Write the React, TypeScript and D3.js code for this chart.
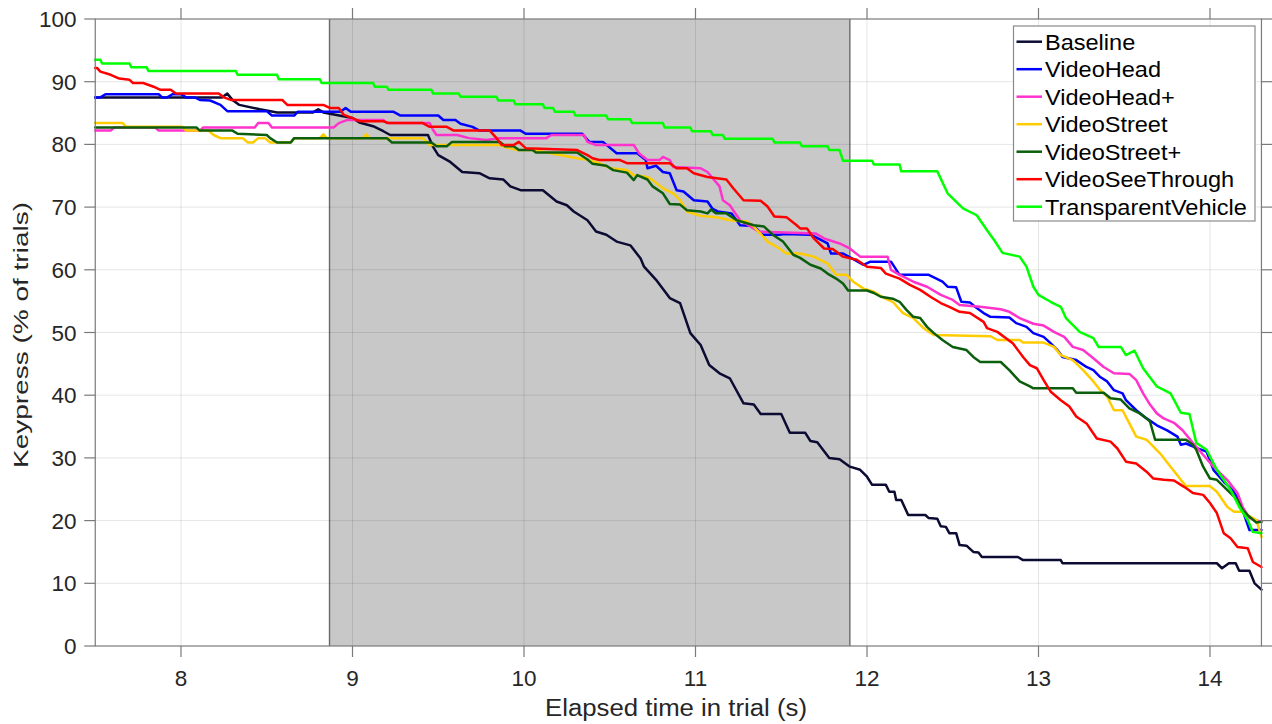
import React from "react";
import * as d3 from "d3";

type Pt = [number, number];

const seriesNames = ["Baseline", "VideoHead", "VideoHead+", "VideoStreet", "VideoStreet+", "VideoSeeThrough", "TransparentVehicle"];
const seriesColors = ["#0b0b33", "#0000ff", "#ff33cc", "#ffcc00", "#0b5e0b", "#ff0000", "#00ff00"];

const xTicks = [8, 9, 10, 11, 12, 13, 14];
const yTicks = [0, 10, 20, 30, 40, 50, 60, 70, 80, 90, 100];
const xDomain: [number, number] = [7.5, 14.3];
const yDomain: [number, number] = [0, 100];
const shadedInterval: [number, number] = [8.866, 11.9];

const baseline: Pt[] = [[7.5,87.5],[8.24,87.5],[8.27,88.1],[8.30,87.1],[8.34,86.3],[8.46,85.6],[8.56,85.1],[8.77,85.1],[8.80,85.6],[8.83,85.1],[9.00,84.2],[9.04,83.5],[9.12,82.9],[9.18,82.1],[9.22,81.5],[9.44,81.5],[9.47,79.6],[9.50,78.3],[9.57,77.2],[9.64,75.6],[9.74,75.4],[9.80,74.6],[9.88,74.4],[9.92,73.3],[9.98,72.7],[10.11,72.7],[10.19,70.9],[10.25,70.3],[10.29,69.3],[10.37,67.9],[10.42,66.1],[10.48,65.6],[10.54,64.5],[10.62,63.9],[10.68,61.8],[10.70,60.5],[10.77,58.4],[10.85,55.5],[10.91,54.7],[10.97,49.9],[11.03,48.0],[11.08,44.8],[11.14,43.5],[11.20,42.7],[11.28,38.7],[11.34,38.5],[11.38,37.0],[11.50,37.0],[11.55,34.0],[11.64,34.0],[11.67,32.7],[11.71,32.5],[11.78,30.0],[11.84,29.8],[11.90,28.6],[11.96,28.1],[12.00,27.0],[12.03,25.7],[12.11,25.7],[12.13,24.6],[12.16,24.6],[12.17,23.3],[12.20,23.3],[12.24,20.9],[12.34,20.9],[12.36,20.4],[12.41,20.3],[12.43,19.1],[12.46,19.0],[12.48,18.0],[12.52,18.0],[12.54,16.1],[12.58,16.0],[12.62,15.0],[12.65,14.9],[12.67,14.2],[12.88,14.2],[12.91,13.7],[13.13,13.7],[13.14,13.2],[14.04,13.2],[14.07,12.4],[14.11,13.2],[14.15,13.2],[14.17,12.0],[14.23,12.0],[14.26,10.0],[14.30,9.0]];

const videoHead: Pt[] = [[7.5,87.5],[7.53,87.5],[7.56,88.0],[7.87,88.0],[7.89,87.5],[7.92,87.5],[7.95,88.0],[8.00,88.0],[8.03,87.5],[8.08,87.5],[8.11,87.1],[8.17,87.0],[8.23,86.3],[8.27,85.3],[8.50,85.3],[8.53,84.6],[8.66,84.6],[8.68,85.2],[8.93,85.2],[8.96,85.8],[8.99,85.2],[9.24,85.2],[9.28,84.6],[9.50,84.6],[9.53,83.9],[9.60,83.9],[9.63,83.3],[9.70,82.8],[9.74,82.2],[9.98,82.2],[10.01,81.7],[10.34,81.7],[10.38,80.4],[10.46,80.4],[10.54,78.6],[10.66,78.6],[10.71,77.5],[10.72,76.2],[10.77,76.6],[10.81,75.6],[10.85,75.4],[10.89,72.7],[10.93,72.5],[10.99,71.1],[11.07,70.9],[11.10,69.7],[11.13,69.3],[11.21,69.0],[11.26,67.1],[11.34,67.0],[11.39,65.6],[11.49,65.6],[11.52,65.7],[11.67,65.6],[11.70,65.2],[11.77,64.2],[11.79,62.6],[11.86,62.6],[11.92,61.7],[11.98,60.8],[12.02,61.3],[12.14,61.3],[12.19,59.2],[12.36,59.2],[12.39,58.8],[12.44,58.1],[12.47,57.3],[12.52,57.2],[12.55,54.9],[12.60,54.8],[12.63,54.1],[12.68,53.1],[12.72,52.5],[12.83,52.4],[12.87,51.5],[12.93,50.9],[12.97,49.9],[13.03,49.3],[13.07,48.3],[13.11,47.2],[13.14,46.1],[13.22,45.6],[13.28,44.5],[13.32,44.0],[13.36,42.9],[13.40,42.2],[13.44,40.8],[13.49,40.3],[13.51,39.2],[13.57,37.6],[13.63,36.3],[13.69,35.2],[13.75,34.4],[13.81,33.4],[13.83,32.1],[13.86,32.3],[13.92,31.6],[13.98,31.0],[14.02,28.1],[14.08,26.2],[14.13,24.9],[14.17,23.3],[14.21,20.1],[14.23,18.5],[14.30,18.5]];

const videoHeadPlus: Pt[] = [[7.5,82.2],[7.59,82.2],[7.61,82.7],[7.85,82.7],[7.87,82.2],[8.11,82.2],[8.13,82.7],[8.43,82.7],[8.45,83.4],[8.51,83.4],[8.53,82.7],[8.89,82.7],[8.92,83.4],[8.97,83.9],[9.18,83.9],[9.20,83.4],[9.45,83.4],[9.47,82.3],[9.49,81.5],[9.61,81.5],[9.68,81.0],[9.78,80.7],[9.86,81.0],[10.13,81.0],[10.16,81.5],[10.35,81.5],[10.37,80.4],[10.42,79.9],[10.64,79.9],[10.67,78.6],[10.72,77.5],[10.79,77.5],[10.81,78.0],[10.85,77.5],[10.87,76.4],[11.03,76.2],[11.07,75.6],[11.14,73.3],[11.16,71.1],[11.20,70.3],[11.26,67.9],[11.37,66.1],[11.70,65.8],[11.75,65.0],[11.84,64.2],[11.90,63.4],[11.96,62.1],[12.12,62.1],[12.14,60.0],[12.19,59.2],[12.27,58.1],[12.35,57.3],[12.43,56.0],[12.50,55.2],[12.54,54.4],[12.66,54.1],[12.78,53.7],[12.83,53.3],[12.89,52.3],[12.97,51.4],[13.03,51.1],[13.09,50.1],[13.15,49.3],[13.20,47.7],[13.26,47.2],[13.32,45.9],[13.38,44.5],[13.44,43.5],[13.53,43.4],[13.57,42.4],[13.61,40.3],[13.65,38.5],[13.69,37.1],[13.73,36.3],[13.79,35.6],[13.84,34.4],[13.90,32.4],[13.96,30.5],[14.02,28.6],[14.10,26.5],[14.16,24.4],[14.19,22.2],[14.23,20.4],[14.30,19.8]];

const videoStreet: Pt[] = [[7.5,83.4],[7.66,83.4],[7.68,82.8],[8.01,82.8],[8.03,82.2],[8.16,82.2],[8.19,81.5],[8.23,81.0],[8.36,81.0],[8.39,80.3],[8.42,80.3],[8.45,81.0],[8.49,81.0],[8.52,80.3],[8.64,80.3],[8.66,81.0],[8.81,81.0],[8.83,81.6],[8.85,81.0],[9.06,81.0],[9.08,81.6],[9.10,81.0],[9.41,81.0],[9.45,79.9],[9.86,79.9],[9.90,79.5],[9.96,79.1],[10.05,79.1],[10.21,78.3],[10.31,77.8],[10.38,77.5],[10.44,77.0],[10.50,76.2],[10.60,75.9],[10.64,75.1],[10.72,74.8],[10.75,74.3],[10.81,73.0],[10.87,72.2],[10.91,71.1],[10.95,69.3],[11.03,68.6],[11.12,68.4],[11.20,67.9],[11.30,67.7],[11.34,66.9],[11.42,64.5],[11.49,63.4],[11.53,62.6],[11.61,62.6],[11.69,62.1],[11.77,61.0],[11.82,59.2],[11.88,59.2],[11.92,58.1],[11.98,57.0],[12.04,56.5],[12.10,55.5],[12.15,54.9],[12.21,53.1],[12.27,52.3],[12.33,50.7],[12.39,49.6],[12.72,49.4],[12.76,48.8],[12.89,48.8],[12.91,48.4],[13.03,48.4],[13.09,47.7],[13.13,46.4],[13.20,45.6],[13.26,44.0],[13.32,42.2],[13.36,40.8],[13.40,39.8],[13.44,37.6],[13.49,37.6],[13.53,35.5],[13.57,33.4],[13.63,32.9],[13.71,30.7],[13.77,28.6],[13.83,26.5],[13.86,25.5],[14.00,25.5],[14.04,24.6],[14.10,22.2],[14.14,21.4],[14.19,21.4],[14.22,20.9],[14.27,20.1],[14.30,17.4]];

const videoStreetPlus: Pt[] = [[7.5,82.7],[8.09,82.7],[8.11,82.2],[8.30,82.2],[8.33,81.7],[8.50,81.5],[8.52,81.0],[8.56,80.3],[8.64,80.3],[8.66,81.0],[9.20,81.0],[9.23,80.3],[9.46,80.3],[9.49,79.7],[9.55,79.7],[9.58,80.4],[9.86,80.4],[9.89,79.7],[9.94,79.7],[9.97,79.1],[10.05,79.1],[10.07,78.7],[10.31,78.7],[10.37,77.6],[10.40,76.9],[10.48,76.6],[10.52,75.9],[10.60,75.5],[10.64,74.3],[10.66,75.1],[10.72,74.4],[10.75,73.3],[10.81,72.2],[10.85,70.5],[10.91,70.4],[10.95,69.5],[11.03,69.3],[11.07,69.0],[11.09,69.6],[11.12,69.0],[11.18,69.0],[11.24,67.9],[11.34,67.1],[11.40,66.9],[11.45,65.6],[11.51,64.5],[11.57,62.4],[11.61,61.9],[11.67,60.8],[11.73,60.2],[11.77,59.4],[11.82,58.6],[11.86,57.8],[11.89,56.7],[12.00,56.7],[12.04,56.3],[12.08,55.7],[12.15,55.4],[12.19,54.9],[12.23,53.6],[12.27,52.5],[12.31,52.3],[12.35,50.9],[12.39,49.9],[12.44,48.8],[12.50,47.7],[12.58,47.2],[12.62,46.1],[12.66,45.3],[12.78,45.3],[12.83,44.0],[12.89,42.2],[12.95,41.4],[12.97,41.1],[13.20,41.1],[13.22,40.4],[13.38,40.4],[13.42,39.5],[13.48,39.3],[13.53,37.9],[13.59,37.1],[13.63,36.3],[13.65,35.8],[13.68,32.9],[13.86,32.9],[13.90,32.1],[13.92,31.3],[13.96,28.6],[14.00,26.7],[14.04,26.5],[14.10,24.9],[14.16,23.3],[14.19,21.7],[14.23,20.6],[14.27,19.7],[14.30,19.8]];

const videoSeeThrough: Pt[] = [[7.5,92.2],[7.51,92.2],[7.53,91.6],[7.59,91.1],[7.64,90.5],[7.70,90.3],[7.72,89.8],[7.78,89.8],[7.84,89.2],[7.88,88.7],[7.94,88.7],[7.97,88.1],[8.22,88.1],[8.25,87.5],[8.29,87.1],[8.59,87.1],[8.62,86.3],[8.83,86.3],[8.87,85.8],[8.92,85.8],[8.95,84.7],[9.00,84.2],[9.04,83.7],[9.18,83.7],[9.21,83.4],[9.41,83.4],[9.45,82.8],[9.55,82.8],[9.59,82.2],[9.80,82.2],[9.84,81.0],[9.87,79.9],[9.94,79.9],[9.97,80.4],[10.01,79.4],[10.31,79.1],[10.37,78.3],[10.40,77.8],[10.44,77.5],[10.56,77.5],[10.60,77.0],[10.85,77.0],[10.89,76.2],[10.95,76.2],[10.99,75.4],[11.07,74.8],[11.18,74.4],[11.22,73.0],[11.28,71.1],[11.38,71.0],[11.42,70.1],[11.46,68.5],[11.53,68.4],[11.59,67.1],[11.61,66.6],[11.65,66.6],[11.69,65.0],[11.75,63.4],[11.80,63.3],[11.86,62.1],[11.94,61.6],[12.00,60.5],[12.08,60.3],[12.11,59.4],[12.19,58.6],[12.25,57.6],[12.31,56.8],[12.37,55.7],[12.43,54.7],[12.48,54.1],[12.54,53.3],[12.60,53.1],[12.68,51.7],[12.70,50.7],[12.76,50.1],[12.85,48.3],[12.91,46.1],[12.95,44.8],[12.99,44.3],[13.03,42.4],[13.07,40.6],[13.13,39.2],[13.18,38.2],[13.22,36.6],[13.28,35.5],[13.34,33.1],[13.42,32.6],[13.46,31.5],[13.51,29.4],[13.57,29.1],[13.63,27.8],[13.67,26.7],[13.73,26.5],[13.79,26.4],[13.83,25.7],[13.86,25.2],[13.90,24.4],[13.96,24.1],[14.00,22.8],[14.04,21.2],[14.08,18.0],[14.12,17.2],[14.16,15.8],[14.22,15.6],[14.25,13.4],[14.30,12.6]];

const transparentVehicle: Pt[] = [[7.5,93.5],[7.53,93.5],[7.54,92.9],[7.70,92.9],[7.71,92.3],[7.80,92.3],[7.81,91.7],[8.32,91.7],[8.33,91.1],[8.56,91.1],[8.57,90.4],[8.81,90.4],[8.82,89.8],[9.12,89.8],[9.13,89.2],[9.20,89.2],[9.21,88.7],[9.46,88.7],[9.47,88.1],[9.62,88.1],[9.63,87.6],[9.84,87.6],[9.85,87.0],[9.94,87.0],[9.95,86.4],[10.11,86.4],[10.12,85.8],[10.17,85.8],[10.18,85.2],[10.29,85.2],[10.30,84.6],[10.48,84.6],[10.49,84.0],[10.62,84.0],[10.63,83.4],[10.81,83.4],[10.82,82.7],[10.97,82.7],[10.98,82.1],[11.09,82.1],[11.10,81.5],[11.16,81.5],[11.17,80.9],[11.45,80.9],[11.46,80.3],[11.61,80.3],[11.62,79.7],[11.77,79.7],[11.78,79.1],[11.84,79.1],[11.86,77.4],[12.03,77.4],[12.04,76.8],[12.19,76.8],[12.20,75.7],[12.41,75.7],[12.47,72.2],[12.56,69.8],[12.64,68.7],[12.70,66.3],[12.74,64.8],[12.79,62.7],[12.89,62.1],[12.93,60.5],[12.97,57.3],[13.00,56.0],[13.07,54.9],[13.13,54.1],[13.16,52.3],[13.24,50.1],[13.32,49.1],[13.35,47.7],[13.48,47.7],[13.51,46.4],[13.56,47.1],[13.61,44.3],[13.69,41.4],[13.77,40.3],[13.83,37.2],[13.88,37.0],[13.92,32.4],[13.98,31.3],[14.04,28.1],[14.12,24.9],[14.17,22.2],[14.22,20.1],[14.25,18.2],[14.30,18.0]];

const seriesData: Pt[][] = [baseline, videoHead, videoHeadPlus, videoStreet, videoStreetPlus, videoSeeThrough, transparentVehicle];

const W = 1272;
const H = 724;
const FONT = "'Liberation Sans', Arial, Helvetica, sans-serif";
const TEXT = "#262626";
const AXIS = "#7a7a7a";

export default function App() {
  const x = d3.scaleLinear().domain(xDomain).range([95.25, 1261.45]);
  const y = d3.scaleLinear().domain(yDomain).range([646, 19]);
  const line = d3.line<Pt>().x((d) => x(d[0])).y((d) => y(d[1])).curve(d3.curveLinear);
  const [x0, x1] = x.range();
  const [y0, y1] = y.range();
  const tickLen = 11;

  const legX = 1013.5;
  const legY = 26;
  const legW = 241.5;
  const legH = 195;
  const rowH = 27.5;

  return (
    <svg width={W} height={H} style={{ position: "absolute", left: 0, top: 0, display: "block", background: "#fff" }} fontFamily={FONT}>
      <rect x={0} y={0} width={W} height={H} fill="#fff" />
      {/* shaded interval */}
      <rect x={x(shadedInterval[0])} y={y1} width={x(shadedInterval[1]) - x(shadedInterval[0])} height={y0 - y1} fill="#c8c8c8" />
      <line x1={x(shadedInterval[0])} x2={x(shadedInterval[0])} y1={y1} y2={y0} stroke="#6a6a6a" strokeWidth={1.4} />
      <line x1={x(shadedInterval[1])} x2={x(shadedInterval[1])} y1={y1} y2={y0} stroke="#6a6a6a" strokeWidth={1.4} />
      {/* grid */}
      {xTicks.map((t) => (
        <line key={"gx" + t} x1={x(t)} x2={x(t)} y1={y1} y2={y0} stroke="#000" strokeOpacity={0.1} strokeWidth={1} />
      ))}
      {yTicks.filter((t) => t > 0 && t < 100).map((t) => (
        <line key={"gy" + t} x1={x0} x2={x1} y1={y(t)} y2={y(t)} stroke="#000" strokeOpacity={0.1} strokeWidth={1} />
      ))}
      {/* series */}
      <g clipPath="url(#plotclip)">
        {seriesData.map((s, i) => (
          <path key={seriesNames[i]} d={line(s) || ""} fill="none" stroke={seriesColors[i]} strokeWidth={2.5} strokeLinejoin="round" strokeLinecap="round" />
        ))}
      </g>
      <defs>
        <clipPath id="plotclip">
          <rect x={x0 - 2} y={y1 - 2} width={x1 - x0 + 4} height={y0 - y1 + 4} />
        </clipPath>
      </defs>
      {/* axes box */}
      <rect x={x0} y={y1} width={x1 - x0} height={y0 - y1} fill="none" stroke={AXIS} strokeWidth={1.2} />
      {xTicks.map((t) => (
        <g key={"tx" + t}>
          <line x1={x(t)} x2={x(t)} y1={y0} y2={y0 + tickLen} stroke={AXIS} strokeWidth={1.2} />
          <line x1={x(t)} x2={x(t)} y1={y1} y2={y1 - tickLen} stroke={AXIS} strokeWidth={1.2} />
          <text x={x(t)} y={686} textAnchor="middle" fontSize={22.5} fill={TEXT}>{t}</text>
        </g>
      ))}
      {yTicks.map((t) => (
        <g key={"ty" + t}>
          <line x1={x0 - tickLen} x2={x0} y1={y(t)} y2={y(t)} stroke={AXIS} strokeWidth={1.2} />
          <line x1={x1} x2={x1 + tickLen} y1={y(t)} y2={y(t)} stroke={AXIS} strokeWidth={1.2} />
          <text x={76.5} y={y(t) + 8} textAnchor="end" fontSize={22.5} fill={TEXT}>{t}</text>
        </g>
      ))}
      {/* axis labels */}
      <text x={545} y={716} fontSize={23} fill={TEXT} textLength={262} lengthAdjust="spacingAndGlyphs">Elapsed time in trial (s)</text>
      <text transform={`translate(27.5, 468) rotate(-90)`} x={0} y={0} fontSize={21} fill={TEXT} textLength={266} lengthAdjust="spacingAndGlyphs">Keypress (% of trials)</text>
      {/* legend */}
      <rect x={legX} y={legY} width={legW} height={legH} fill="#fff" stroke="#8a8a8a" strokeWidth={1.2} />
      {seriesNames.map((n, i) => {
        const cy = legY + 15.7 + i * rowH;
        return (
          <g key={"leg" + n}>
            <line x1={legX + 3} x2={legX + 28.5} y1={cy} y2={cy} stroke={seriesColors[i]} strokeWidth={2.5} />
            <text transform={`translate(${legX + 31.5}, ${cy + 8}) scale(1.07,1)`} fontSize={22} fill="#000">{n}</text>
          </g>
        );
      })}
    </svg>
  );
}
